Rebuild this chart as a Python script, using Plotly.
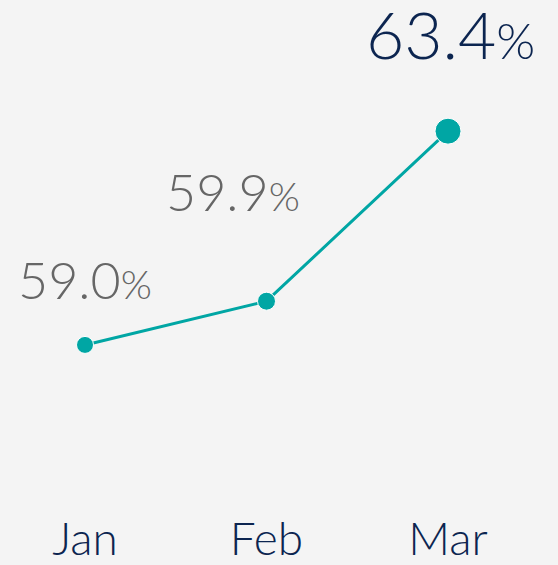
import plotly.graph_objects as go

months = ['Jan', 'Feb', 'Mar']
rates = [59.0, 59.9, 63.4]

bgColor = '#f4f4f4'
lineColor = '#00a6a4'
grayText = '#666666'
navyText = '#0c2550'
fontFamily = 'Lato'

xs = list(range(len(months)))

fig = go.Figure(go.Scatter(
    x=xs, y=rates, mode='lines+markers',
    line=dict(color=lineColor, width=3),
    marker=dict(color=lineColor, size=[17, 18, 26], opacity=1),
    hoverinfo='skip',
))

# per-label placement relative to its point
shifts = [(0, 66), (-34, 110), (2, 98)]
labelStyles = [(grayText, 52, 40), (grayText, 52, 40), (navyText, 66, 50)]

for i, (m, v) in enumerate(zip(xs, rates)):
    color, big, small = labelStyles[i]
    fig.add_annotation(
        x=m, y=v, xref='x', yref='y', showarrow=False,
        text='%.1f<span style="font-size:%dpx">%%</span>' % (v, small),
        font=dict(family=fontFamily, size=big, color=color, weight=300),
        xanchor='center', yanchor='middle',
        xshift=shifts[i][0], yshift=shifts[i][1],
    )

fig.update_layout(
    width=558, height=565,
    margin=dict(l=0, r=0, t=0, b=60, pad=0),
    paper_bgcolor=bgColor, plot_bgcolor=bgColor,
    showlegend=False,
    xaxis=dict(range=[-0.4683, 2.606], tickvals=xs, ticktext=months,
               showgrid=False, zeroline=False, showline=False, ticks='',
               ticklabelstandoff=12,
               tickfont=dict(family=fontFamily, size=46, color=navyText, weight=300)),
    yaxis=dict(range=[55.89, 66.10], visible=False, showgrid=False, zeroline=False),
)

fig.write_html('out.html', config={'displayModeBar': False},
               post_script="document.body.style.margin='0';document.body.style.background='%s';" % bgColor)
